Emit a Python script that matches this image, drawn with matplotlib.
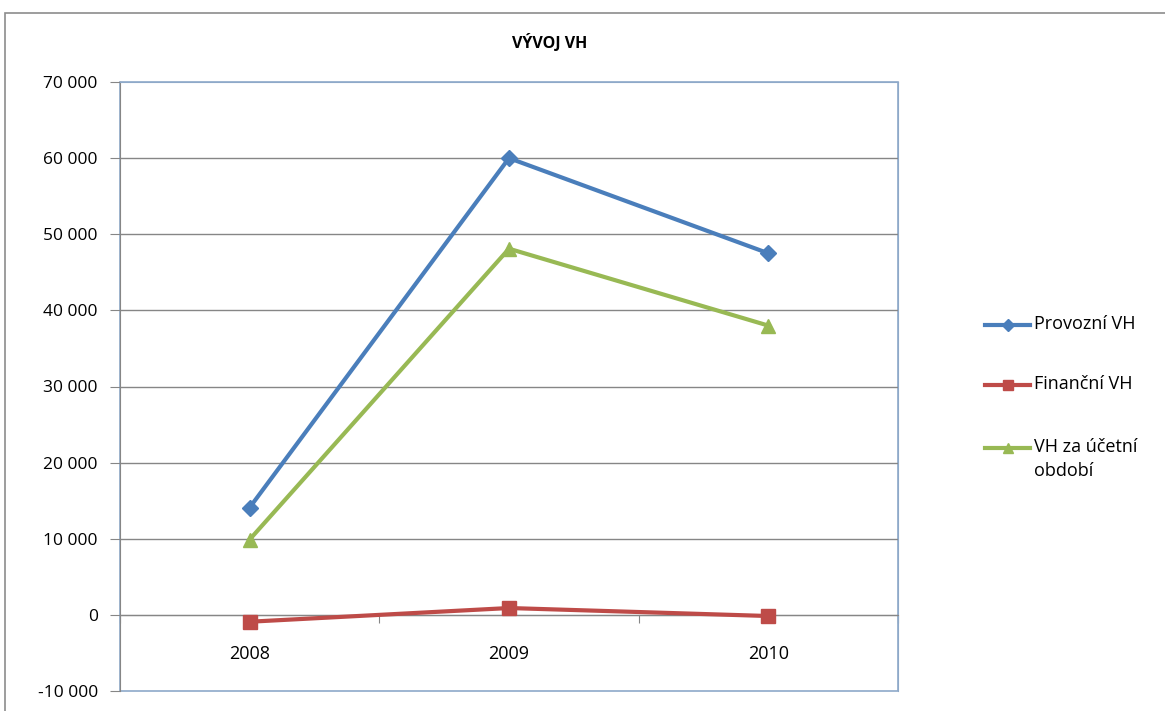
import matplotlib.pyplot as plt
from matplotlib.patches import Rectangle
from matplotlib.lines import Line2D

plt.rcParams['font.family'] = ['Open Sans', 'DejaVu Sans']

years = ["2008", "2009", "2010"]
provozni = [14100, 60000, 47500]
financni = [-900, 900, -150]
vh_obdobi = [9900, 48100, 38000]

labels = ["Provozní VH", "Finanční VH", "VH za účetní\nobdobí"]
colors = ["#4A7EBB", "#BE4B48", "#98B954"]
markers = ["D", "s", "^"]
msizes = [8, 10, 10]

W, H = 1165, 711
fig = plt.figure(figsize=(W / 100, H / 100), dpi=100)

# outer chart frame
fig.patches.append(Rectangle((5 / W, -0.05), 1.1, 1 - 13 / H + 0.05,
                             transform=fig.transFigure, fill=False,
                             edgecolor="#8C8C8C", linewidth=1.2, zorder=0))

ax = fig.add_axes([120 / W, 20 / H, 778 / W, 609 / H])
x = [0.5, 1.5, 2.5]

for vals, c, m, ms in zip([provozni, financni, vh_obdobi], colors, markers, msizes):
    ax.plot(x, vals, color=c, linewidth=3, marker=m, markersize=ms,
            markeredgecolor=c, zorder=3)

ax.set_xlim(0, 3)
ax.set_ylim(-10000, 70000)
yt = list(range(-10000, 70001, 10000))
ax.set_yticks(yt)
ax.set_yticklabels([f"{v:,}".replace(",", " ") for v in yt], fontsize=12.5)
ax.tick_params(axis="y", direction="out", length=7, color="#868686", pad=9)

for v in yt[1:-1]:
    ax.axhline(v, color="#868686", linewidth=1, zorder=1)

# category axis at zero
ax.spines["bottom"].set_position(("data", 0))
ax.spines["bottom"].set_color("#868686")
ax.spines["left"].set_color("#868686")
for s in ["top", "right"]:
    ax.spines[s].set_color("#8EA9C9")
ax.add_patch(Rectangle((0, 0), 1, 1, transform=ax.transAxes, fill=False,
                       edgecolor="#8EA9C9", linewidth=1.2, zorder=0, clip_on=False))

ax.set_xticks([0, 1, 2, 3])
ax.set_xticklabels([])
ax.set_xticks(x, minor=True)
ax.set_xticklabels(years, minor=True, fontsize=13)
ax.tick_params(axis="x", which="major", direction="out", length=6, color="#868686")
ax.tick_params(axis="x", which="minor", length=0, pad=22)

fig.text(550 / W, 1 - 43 / H, "VÝVOJ VH", ha="center", va="center",
         fontsize=11.5, fontweight="bold")

# legend drawn by hand on the right
legend_y = [325, 385, 448]
for lab, c, m, ms, ly in zip(labels, colors, markers, msizes, legend_y):
    yf = 1 - ly / H
    fig.lines.append(Line2D([985 / W, 1030 / W], [yf, yf], transform=fig.transFigure,
                            color=c, linewidth=3, marker=None))
    fig.lines.append(Line2D([1008 / W], [yf], transform=fig.transFigure,
                            color=c, marker=m, markersize=ms * 0.75, markeredgecolor=c))
    fig.text(1034 / W, yf + 10 / H, lab, ha="left", va="top", fontsize=13,
             linespacing=1.45)

fig.savefig("out.png", dpi=100)
